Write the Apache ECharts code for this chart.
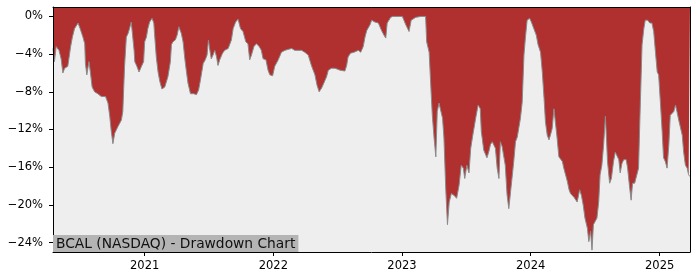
<!DOCTYPE html>
<html>
<head>
<meta charset="utf-8">
<script src="https://cdn.jsdelivr.net/npm/echarts@6/dist/echarts.min.js"></script>
<style>
html,body{margin:0;padding:0;background:#fff;}
#chart{width:700px;height:280px;}
</style>
</head>
<body>
<div id="chart"></div>
<script>
var chartTitle = 'BCAL (NASDAQ) - Drawdown Chart';
var yearTicks = ['2021-01-01','2022-01-01','2023-01-01','2024-01-01','2025-01-01'];
var pctTicks = [0,-4,-8,-12,-16,-20,-24];

var dates = [
'2020-04-16','2020-04-18','2020-04-20','2020-04-25','2020-05-03','2020-05-09','2020-05-14','2020-05-19','2020-05-28','2020-06-02',
'2020-06-05','2020-06-10','2020-06-16','2020-06-26','2020-07-02','2020-07-10','2020-07-15','2020-07-17','2020-07-21','2020-07-27',
'2020-07-31','2020-08-05','2020-08-12','2020-08-21','2020-08-31','2020-09-12','2020-09-19','2020-09-24','2020-09-28','2020-10-03',
'2020-10-08','2020-10-17','2020-10-27','2020-10-31','2020-11-05','2020-11-10','2020-11-15','2020-11-19','2020-11-24','2020-11-29',
'2020-12-02','2020-12-04','2020-12-10','2020-12-16','2020-12-23','2020-12-29','2021-01-01','2021-01-06','2021-01-10','2021-01-15',
'2021-01-22','2021-01-27','2021-01-29','2021-02-03','2021-02-08','2021-02-13','2021-02-19','2021-02-27','2021-03-08','2021-03-15',
'2021-03-18','2021-03-22','2021-03-29','2021-04-03','2021-04-08','2021-04-12','2021-04-15','2021-04-20','2021-04-25','2021-04-29',
'2021-05-04','2021-05-11','2021-05-20','2021-05-28','2021-06-03','2021-06-08','2021-06-16','2021-06-22','2021-06-27','2021-07-01',
'2021-07-05','2021-07-09','2021-07-14','2021-07-19','2021-07-24','2021-07-28','2021-08-02','2021-08-10','2021-08-16','2021-08-26',
'2021-08-30','2021-09-04','2021-09-09','2021-09-16','2021-09-23','2021-09-30','2021-10-07','2021-10-15','2021-10-21','2021-10-26',
'2021-10-31','2021-11-07','2021-11-14','2021-11-22','2021-11-28','2021-12-03','2021-12-11','2021-12-17','2021-12-22','2021-12-30',
'2022-01-05','2022-01-15','2022-01-24','2022-02-03','2022-02-12','2022-02-22','2022-03-03','2022-03-12','2022-03-22','2022-03-31',
'2022-04-10','2022-04-19','2022-04-29','2022-05-05','2022-05-11','2022-05-18','2022-05-24','2022-06-01','2022-06-06','2022-06-15',
'2022-06-25','2022-07-09','2022-07-23','2022-07-28','2022-08-01','2022-08-08','2022-08-18','2022-08-30','2022-09-06','2022-09-13',
'2022-09-18','2022-09-23','2022-09-27','2022-10-02','2022-10-07','2022-10-16','2022-10-26','2022-11-04','2022-11-11','2022-11-16',
'2022-11-20','2022-11-30','2022-12-06','2022-12-24','2023-01-02','2023-01-12','2023-01-21','2023-01-27','2023-02-09','2023-02-24',
'2023-03-09','2023-03-12','2023-03-19','2023-03-24','2023-03-28','2023-04-02','2023-04-07','2023-04-11','2023-04-16','2023-04-21',
'2023-04-26','2023-04-30','2023-05-05','2023-05-10','2023-05-15','2023-05-21','2023-05-29','2023-06-05','2023-06-12','2023-06-18',
'2023-06-24','2023-06-28','2023-07-04','2023-07-10','2023-07-15','2023-07-20','2023-07-25','2023-07-29','2023-08-05','2023-08-11',
'2023-08-14','2023-08-21','2023-08-26','2023-08-30','2023-09-04','2023-09-09','2023-09-14','2023-09-18','2023-09-23','2023-09-28',
'2023-10-03','2023-10-07','2023-10-12','2023-10-17','2023-10-21','2023-10-26','2023-10-31','2023-11-05','2023-11-09','2023-11-14',
'2023-11-19','2023-11-24','2023-11-29','2023-12-03','2023-12-08','2023-12-13','2023-12-17','2023-12-22','2023-12-29','2024-01-03',
'2024-01-10','2024-01-17','2024-01-22','2024-01-29','2024-02-03','2024-02-08','2024-02-12','2024-02-17','2024-02-22','2024-02-26',
'2024-03-02','2024-03-07','2024-03-12','2024-03-16','2024-03-21','2024-03-26','2024-03-31','2024-04-04','2024-04-09','2024-04-14',
'2024-04-19','2024-04-23','2024-04-28','2024-05-03','2024-05-07','2024-05-12','2024-05-19','2024-05-24','2024-05-29','2024-06-03',
'2024-06-10','2024-06-14','2024-06-19','2024-06-23','2024-06-27','2024-07-02','2024-07-07','2024-07-12','2024-07-16','2024-07-21',
'2024-07-26','2024-07-31','2024-08-03','2024-08-06','2024-08-12','2024-08-17','2024-08-23','2024-08-28','2024-09-02','2024-09-07',
'2024-09-11','2024-09-16','2024-09-21','2024-09-28','2024-10-02','2024-10-07','2024-10-12','2024-10-16','2024-10-22','2024-10-27',
'2024-11-02','2024-11-07','2024-11-12','2024-11-17','2024-11-21','2024-11-28','2024-12-04','2024-12-10','2024-12-15','2024-12-20',
'2024-12-25','2024-12-29','2025-01-03','2025-01-08','2025-01-12','2025-01-17','2025-01-22','2025-01-27','2025-01-31','2025-02-05',
'2025-02-10','2025-02-15','2025-02-19','2025-02-24','2025-03-01','2025-03-06','2025-03-10','2025-03-15','2025-03-20','2025-03-24',
'2025-03-28'
];

var drawdown = [
-3.4,-3.2,-4.8,-3.2,-3.6,-4.5,-6.0,-5.5,-5.3,-5.2,
-3.2,-2.2,-1.3,-0.7,-1.3,-2.2,-2.9,-5.0,-6.2,-4.8,
-5.9,-7.5,-8.0,-8.2,-8.5,-8.5,-9.2,-10.6,-12.1,-13.5,
-12.4,-11.7,-11.0,-10.1,-5.3,-2.2,-1.8,-1.3,-0.6,-0.4,
-3.6,-4.8,-5.3,-5.9,-5.3,-4.8,-2.7,-2.2,-1.3,-0.6,
-0.2,-0.7,-1.8,-4.3,-5.9,-6.9,-7.7,-7.5,-6.4,-4.8,
-3.0,-2.7,-2.5,-2.0,-1.1,-0.9,-1.8,-2.7,-4.5,-5.7,
-7.1,-8.2,-8.2,-8.3,-7.8,-6.8,-5.0,-4.6,-4.1,-2.5,
-3.6,-4.5,-4.1,-3.6,-4.3,-5.2,-4.6,-3.9,-3.6,-3.4,
-3.2,-2.5,-1.3,-0.6,-0.3,-1.3,-1.6,-2.7,-2.9,-4.6,
-4.1,-3.2,-2.9,-3.2,-3.6,-4.5,-4.6,-5.7,-6.2,-6.3,
-5.3,-4.6,-3.8,-3.6,-3.5,-3.4,-3.6,-3.6,-3.6,-3.8,
-4.1,-5.2,-6.2,-7.3,-8.0,-7.6,-7.1,-6.4,-5.7,-5.5,
-5.5,-5.7,-5.8,-5.2,-4.3,-3.9,-3.8,-3.6,-3.8,-3.2,
-2.2,-1.5,-1.6,-0.9,-0.4,-0.6,-0.7,-1.5,-2.0,-2.3,
-0.7,-0.1,0,0,0,-0.9,-1.6,-0.4,-0.1,0,
0,-2.7,-3.8,-7.6,-10.5,-12.9,-14.9,-10.1,-9.2,-9.1,
-10.8,-12.9,-18.2,-22.1,-19.7,-18.8,-19.0,-19.3,-17.9,-15.8,
-16.1,-17.2,-15.8,-16.6,-14.0,-12.8,-12.6,-10.8,-9.4,-9.8,
-12.2,-14.2,-14.4,-15.0,-14.4,-13.6,-13.3,-13.1,-14.0,-16.1,
-17.2,-13.3,-13.8,-14.0,-15.8,-18.9,-20.4,-18.6,-17.2,-15.4,
-13.3,-12.8,-12.6,-10.8,-9.1,-4.1,-2.3,-0.4,-0.2,-0.6,
-1.3,-2.0,-3.0,-3.8,-5.9,-8.7,-11.2,-12.6,-13.1,-12.6,
-11.9,-9.8,-9.6,-12.9,-14.9,-14.7,-15.4,-16.1,-16.8,-17.5,
-18.4,-18.8,-19.0,-19.2,-19.3,-19.7,-18.4,-19.0,-20.0,-21.4,
-22.5,-23.9,-22.8,-24.8,-22.1,-22.3,-21.4,-19.7,-16.8,-15.8,
-13.6,-10.6,-12.9,-15.4,-17.7,-17.2,-15.4,-14.4,-14.4,-15.2,
-16.6,-15.6,-15.2,-15.2,-16.1,-17.9,-19.5,-17.7,-17.7,-17.5,
-16.1,-9.4,-3.0,-1.3,-0.4,-0.4,-0.7,-0.7,-1.6,-3.8,
-5.9,-6.2,-9.1,-12.2,-15.0,-15.4,-16.1,-13.6,-10.5,-10.5,
-10.1,-9.4,-10.1,-11.0,-11.2,-12.6,-14.4,-15.8,-16.1,-16.8,
-17.0
];

function toTime(d) { return Date.UTC(+d.slice(0, 4), +d.slice(5, 7) - 1, +d.slice(8, 10)); }
var seriesData = dates.map(function (d, i) { return [toTime(d), drawdown[i]]; });
var yearTickValues = yearTicks.map(toTime);
var xMin = toTime(dates[0]);
var xMax = toTime(dates[dates.length - 1]);

var fontFamily = 'DejaVu Sans';
var chart = echarts.init(document.getElementById('chart'), null, {renderer: 'canvas'});
chart.setOption({
  animation: false,
  backgroundColor: '#ffffff',
  grid: {
    left: 53, right: 10, top: 7, bottom: 28,
    show: true, backgroundColor: '#eeeeee', borderWidth: 0
  },
  xAxis: [{
    type: 'value', min: xMin, max: xMax, z: 10,
    axisLine: {show: true, onZero: false, lineStyle: {color: '#000', width: 1}},
    axisTick: {show: true, length: 4, lineStyle: {color: '#000'}, customValues: yearTickValues},
    axisLabel: {
      show: true, margin: 8, color: '#000', fontSize: 11.5, fontFamily: fontFamily,
      customValues: yearTickValues,
      formatter: function (v) { return String(new Date(v).getUTCFullYear()); }
    },
    splitLine: {show: false}
  }, {
    type: 'value', position: 'top', z: 10, min: xMin, max: xMax,
    axisLine: {show: true, onZero: false, lineStyle: {color: '#000', width: 1}},
    axisTick: {show: false}, axisLabel: {show: false}, splitLine: {show: false}
  }],
  yAxis: [{
    type: 'value', min: -25, max: 1, z: 10,
    axisLine: {show: true, onZero: false, lineStyle: {color: '#000', width: 1}},
    axisTick: {show: true, length: 4, lineStyle: {color: '#000'}, customValues: pctTicks},
    axisLabel: {
      show: true, margin: 10, color: '#000', fontSize: 11.5, fontFamily: fontFamily,
      customValues: pctTicks,
      formatter: function (v) { return (v < 0 ? '\u2212' + Math.abs(v) : String(v)) + '%'; }
    },
    splitLine: {show: false}
  }, {
    type: 'value', min: -25, max: 1, position: 'right', z: 10,
    axisLine: {show: true, onZero: false, lineStyle: {color: '#000', width: 1}},
    axisTick: {show: false}, axisLabel: {show: false}, splitLine: {show: false}
  }],
  series: [{
    type: 'line',
    xAxisIndex: 0, yAxisIndex: 0,
    data: seriesData,
    showSymbol: false,
    symbol: 'none',
    lineStyle: {color: '#8a8a8a', width: 1},
    areaStyle: {color: '#b03030', opacity: 1, origin: 'end'},
    z: 2
  }],
  graphic: [{
    type: 'text',
    left: 53, bottom: 28, z: 20,
    style: {
      text: chartTitle,
      font: '13.8px "DejaVu Sans"',
      fill: '#111',
      backgroundColor: '#b4b4b4',
      padding: [2, 3, 1, 3]
    }
  }]
});
</script>
</body>
</html>
